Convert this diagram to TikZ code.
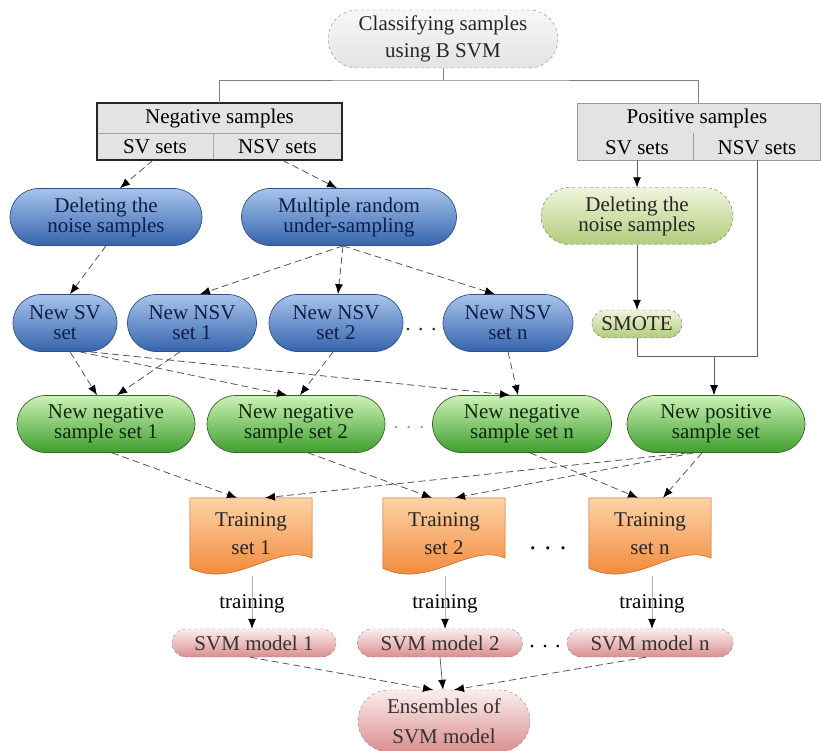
\documentclass[tikz,border=0pt]{standalone}
\usepackage{fontspec}
\setmainfont{Liberation Serif}
\usetikzlibrary{shapes.misc,arrows.meta,backgrounds}
\definecolor{bluetop}{HTML}{A7C4EC}
\definecolor{bluebot}{HTML}{3564AE}
\definecolor{blueline}{HTML}{34507E}
\definecolor{bluetext}{HTML}{0F1E45}
\definecolor{lgtop}{HTML}{F0F5DC}
\definecolor{lgbot}{HTML}{B2CB7C}
\definecolor{gtop}{HTML}{CDF2B6}
\definecolor{gbot}{HTML}{3E9F2E}
\definecolor{gline}{HTML}{3B6332}
\definecolor{gtext}{HTML}{0E2A0E}
\definecolor{otop}{HTML}{FDD3A6}
\definecolor{obot}{HTML}{F07C28}
\definecolor{ptop}{HTML}{FCEDED}
\definecolor{pbot}{HTML}{D98F8F}
\definecolor{conncol}{HTML}{555555}
\newcommand{\mkdoc}[1]{%
  \path[top color=otop, bottom color=obot, draw=obot!80!black, line width=0.5pt]
    (#1.north west) -- (#1.north east) -- ([yshift=12pt]#1.south east)
    .. controls ([xshift=-36pt,yshift=28pt]#1.south east) and ([xshift=46pt,yshift=-20pt]#1.south west)
    .. ([yshift=2pt]#1.south west) -- cycle;}
\begin{document}
\begin{tikzpicture}[x=1pt,y=-1pt,
  base/.style={font=\fontsize{21}{20}\selectfont, align=center, inner sep=0pt},
  pill/.style={base, rounded rectangle, minimum height=57pt},
  topbox/.style={pill, minimum width=230pt, minimum height=58pt, draw=gray, dashed,
    top color=gray!6, bottom color=gray!22, font=\fontsize{21}{27}\selectfont, text=black!85},
  bluebox/.style={pill, draw=blueline, line width=0.7pt, top color=bluetop, bottom color=bluebot, text=bluetext},
  lgbox/.style={pill, draw=gray!80!black, dashed, top color=lgtop, bottom color=lgbot, text=black!85},
  gbox/.style={pill, draw=gline, line width=0.7pt, top color=gtop, bottom color=gbot, text=gtext},
  pinkbox/.style={pill, minimum height=28pt, draw=gray, dashed, top color=ptop, bottom color=pbot, text=black!80},
  cell/.style={base, rectangle, fill=gray!22, draw=gray!70, line width=0.6pt},
  trainbox/.style={base, rectangle, minimum width=122pt, minimum height=72pt, font=\fontsize{21}{28}\selectfont, text=black!85},
  plain/.style={draw=gray!75!black, line width=0.7pt},
  tip/.style={-{Latex[length=10pt,width=8pt,black]}},
  sconn/.style={plain, tip},
  dconn/.style={draw=conncol, line width=0.8pt, dash pattern=on 7pt off 4pt, tip},
  tconn/.style={draw=gray!60, line width=0.7pt, tip},
  dotsty/.style={base, font=\fontsize{22}{22}\selectfont}
]
\useasboundingbox (0,0) rectangle (821,751);

% top
\node[topbox] (cls) at (443,39) {Classifying samples\\using B SVM};

% negative box
\node[cell, minimum width=245pt, minimum height=30pt] (negT) at (219.5,118) {Negative samples};
\node[cell, minimum width=116pt, minimum height=27pt] (negSV) at (155,146.5) {SV sets};
\node[cell, minimum width=129pt, minimum height=27pt] (negNSV) at (277.5,146.5) {NSV sets};
\draw[line width=2pt, black!85] (negT.north west) rectangle (negNSV.south east);

% positive box
\node[cell, minimum width=243pt, minimum height=57pt, draw=gray!80] (posBox) at (698.5,131.5) {};
\node[base] (posT) at (697,118) {Positive samples};
\node[base] (posSV) at (637,148) {SV sets};
\node[base] (posNSV) at (757,148) {NSV sets};
\draw[gray!80, line width=0.6pt] ([xshift=-5.5pt]posBox.south) -- ++(0,-27);

% top connectors
\coordinate (bar) at (443,80);
\draw[plain, gray] (cls.south) -- (bar);
\draw[plain, gray] (negT.north) |- (bar) -| (posBox.north);

% blue / light green
\node[bluebox, minimum width=192pt] (del) at (106,217) {Deleting the\\noise samples};
\node[bluebox, minimum width=215pt] (mult) at (349,217) {Multiple random\\under-sampling};
\node[lgbox, minimum width=192pt] (pdel) at (637,216) {Deleting the\\noise samples};
\node[lgbox, minimum width=90pt, minimum height=28pt] (smote) at (637,324) {SMOTE};

\node[bluebox, minimum width=104pt] (sv) at (65,323) {New SV\\set};
\node[bluebox, minimum width=129pt] (nsv1) at (192,323) {New NSV\\set 1};
\node[bluebox, minimum width=134pt] (nsv2) at (336,323) {New NSV\\set 2};
\node[bluebox, minimum width=130pt] (nsvn) at (508,323) {New NSV\\set n};
\node[dotsty, text=black!80] (dots1) at (421,330) {.\,\,.\,\,.};

% green
\node[gbox, minimum width=178pt] (neg1) at (106,424) {New negative\\sample set 1};
\node[gbox, minimum width=178pt] (neg2) at (296,424) {New negative\\sample set 2};
\node[gbox, minimum width=179pt] (negn) at (522,424) {New negative\\sample set n};
\node[gbox, minimum width=178pt] (pos) at (716,424) {New positive\\sample set};
\node[dotsty, text=gray!70] (dots2) at (409,428) {.\,\,.\,\,.};

% training sets
\node[trainbox] (t1) at (251,534) {Training\\set 1};
\node[trainbox] (t2) at (444,534) {Training\\set 2};
\node[trainbox] (tn) at (650,534) {Training\\set n};
\begin{scope}[on background layer]
\mkdoc{t1}\mkdoc{t2}\mkdoc{tn}
\end{scope}
\node[dotsty, font=\fontsize{26}{26}\selectfont] (dots3) at (548,548) {.\,\,.\,\,.};

% training labels
\node[base] (l1) at (252,604) {training};
\node[base] (l2) at (445,604) {training};
\node[base] (ln) at (652,604) {training};

% svm models
\node[pinkbox, minimum width=164pt] (s1) at (254,643) {SVM model 1};
\node[pinkbox, minimum width=165pt] (s2) at (440,643) {SVM model 2};
\node[pinkbox, minimum width=166pt] (sn) at (650,643) {SVM model n};
\node[dotsty] (dots4) at (545,647) {.\,\,.\,\,.};
\node[pinkbox, minimum width=172pt, minimum height=62pt, font=\fontsize{21}{30}\selectfont] (ens) at (444,721) {Ensembles of\\SVM model};

% positive branch
\draw[sconn] (posSV.south |- posBox.south) -- (pdel.north);
\draw[sconn] (pdel.south) -- (smote.north);
\coordinate (jn) at (757,356);
\draw[plain] (posNSV.south |- posBox.south) -- (jn) -- (smote.south |- jn) -- (smote.south);
\draw[sconn] ([xshift=-2pt]pos.north |- jn) -- ([xshift=-2pt]pos.north);

% negative branch
\draw[dconn] ([xshift=-2pt]negSV.south) -- ([xshift=14pt]del.north);
\draw[dconn] ([xshift=5pt]negNSV.south) -- ([xshift=-12pt]mult.north);
\draw[dconn] (del.south) -- ([xshift=5pt]sv.north);
\draw[dconn] ([xshift=-6pt]mult.south) -- ([xshift=8pt]nsv1.north);
\draw[dconn] ([xshift=-6pt]mult.south) -- ([xshift=2pt]nsv2.north);
\draw[dconn] ([xshift=-6pt]mult.south) -- ([xshift=-13pt]nsvn.north);

\draw[dconn] ([xshift=5pt]sv.south) -- ([xshift=-9pt]neg1.north);
\draw[dconn] ([xshift=15pt]sv.south) -- ([xshift=-9pt]neg2.north);
\draw[dconn] ([xshift=25pt]sv.south) -- ([xshift=-12pt]negn.north);
\draw[dconn] ([xshift=-12pt]nsv1.south) -- ([xshift=11pt]neg1.north);
\draw[dconn] ([xshift=-3pt]nsv2.south) -- ([xshift=4pt]neg2.north);
\draw[dconn] (nsvn.south) -- ([xshift=-4pt]negn.north);

\draw[dconn] ([xshift=6pt]neg1.south) -- ([xshift=-14pt]t1.north);
\draw[dconn] ([xshift=12pt]neg2.south) -- ([xshift=-12pt]t2.north);
\draw[dconn] ([xshift=8pt]negn.south) -- ([xshift=-12pt]tn.north);
\draw[dconn] ([xshift=-28pt]pos.south) -- ([xshift=14pt]t1.north);
\draw[dconn] ([xshift=-22pt]pos.south) -- ([xshift=11pt]t2.north);
\draw[dconn] ([xshift=-14pt]pos.south) -- ([xshift=13pt]tn.north);

% training -> models
\draw[tconn] ([xshift=1pt,yshift=-6pt]t1.south) -- ([xshift=1pt]t1.south |- s1.north);
\draw[tconn] ([xshift=1pt,yshift=-6pt]t2.south) -- ([xshift=1pt]t2.south |- s2.north);
\draw[tconn] ([xshift=2pt,yshift=-6pt]tn.south) -- ([xshift=2pt]tn.south |- sn.north);

% models -> ensemble
\draw[dconn] ([xshift=-4pt]s1.south) -- ([xshift=-11pt]ens.north);
\draw[sconn, draw=conncol] (s2.south) -- ([xshift=-1pt]ens.north);
\draw[dconn] ([xshift=-4pt]sn.south) -- ([xshift=10pt]ens.north);
\end{tikzpicture}
\end{document}
